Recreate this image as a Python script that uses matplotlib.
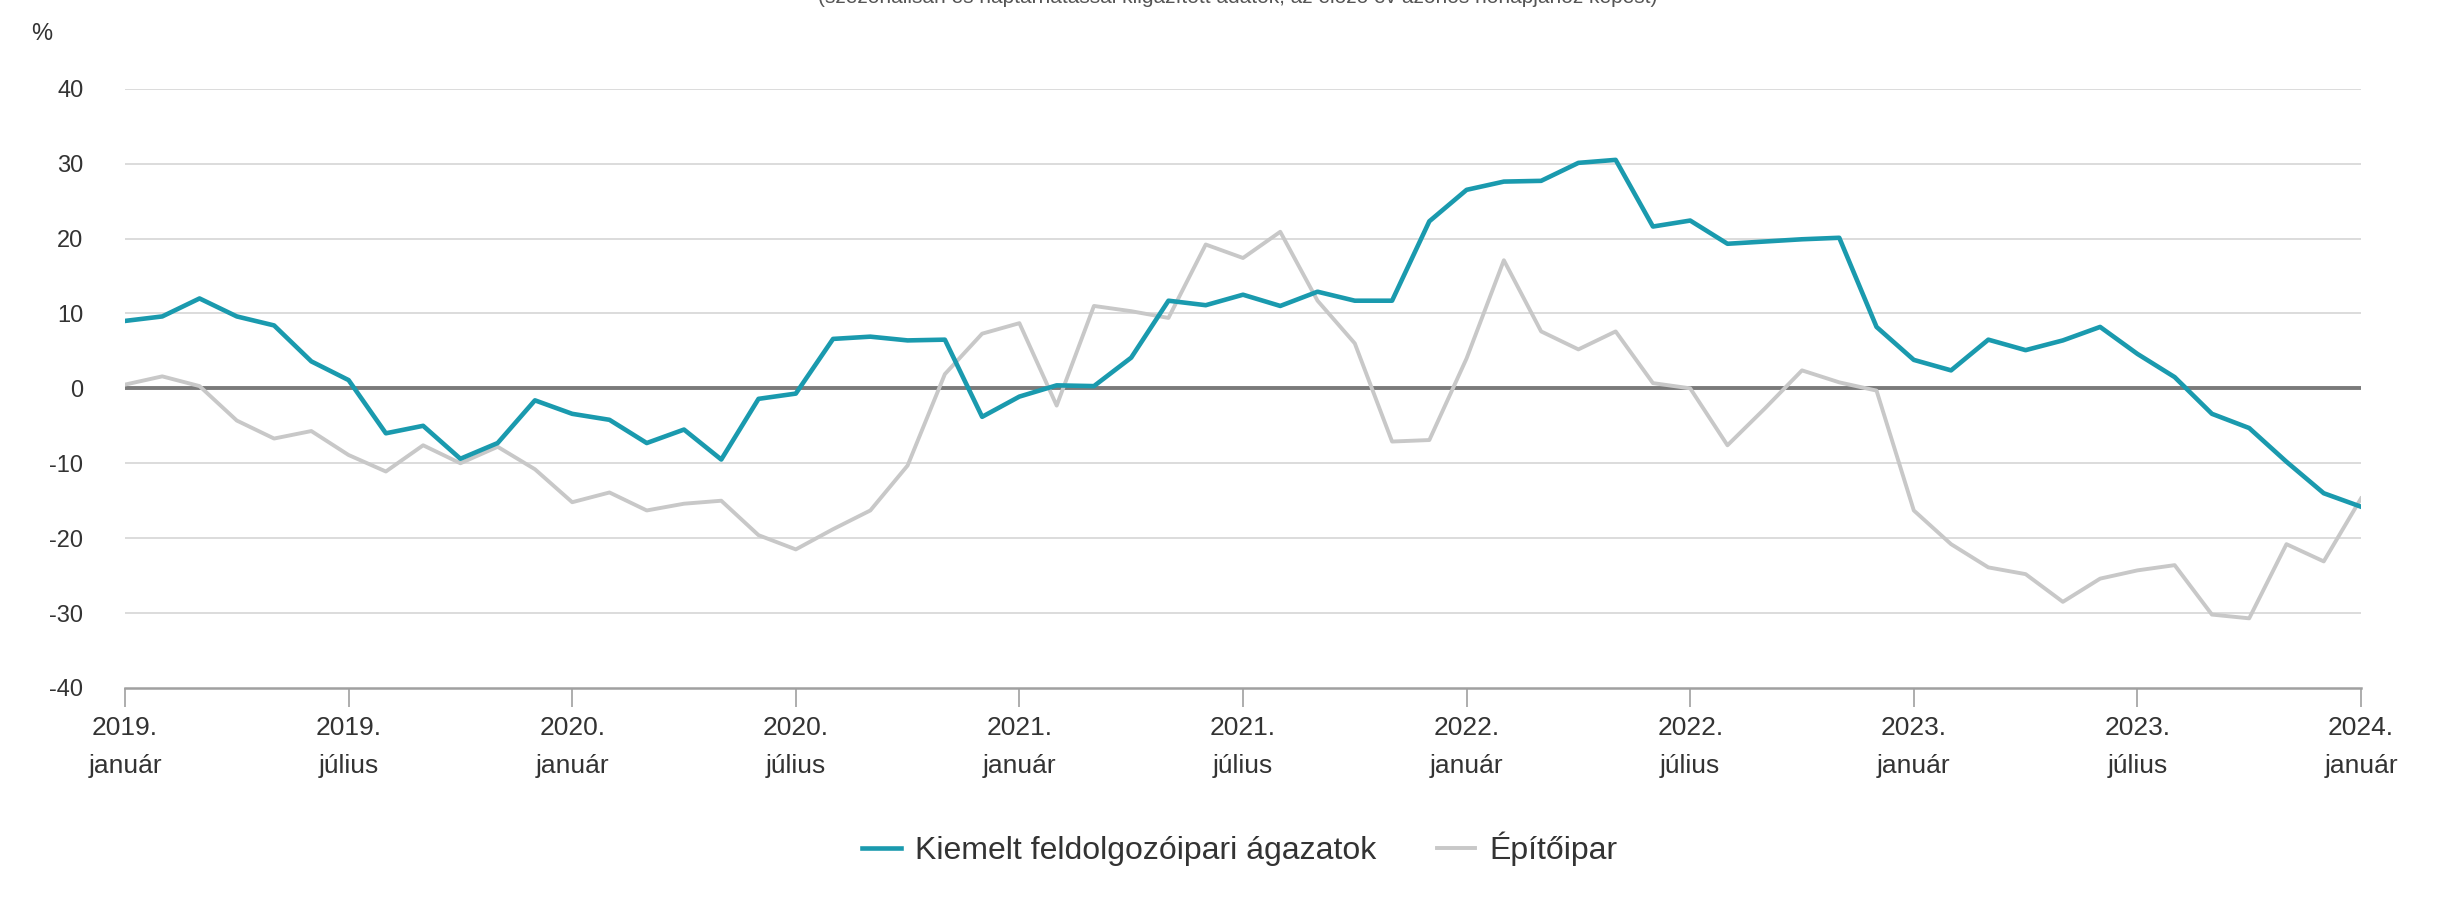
import matplotlib
matplotlib.use("Agg")
import matplotlib.pyplot as plt
import numpy as np

plt.rcParams['font.family'] = ['Liberation Sans', 'DejaVu Sans']

# Data: monthly, 2019 January .. 2024 January
kiemelt = [
    9.0, 9.6, 12.0, 9.6, 8.4, 3.6, 1.1, -6.0, -5.0, -9.4, -7.3, -1.6,
    -3.4, -4.2, -7.3, -5.5, -9.5, -1.4, -0.7, 6.6, 6.9, 6.4, 6.5, -3.8,
    -1.1, 0.4, 0.3, 4.1, 11.7, 11.1, 12.5, 11.0, 12.9, 11.7, 11.7, 22.3,
    26.5, 27.6, 27.7, 30.1, 30.5, 21.6, 22.4, 19.3, 19.6, 19.9, 20.1, 8.2,
    3.8, 2.4, 6.5, 5.1, 6.4, 8.2, 4.6, 1.5, -3.4, -5.3, -9.8, -14.0,
    -15.8,
]
epitoipar = [
    0.5, 1.6, 0.3, -4.3, -6.7, -5.7, -8.9, -11.1, -7.6, -10.0, -7.8, -10.8,
    -15.2, -13.9, -16.3, -15.4, -15.0, -19.6, -21.5, -18.8, -16.3, -10.3, 1.9, 7.3,
    8.7, -2.3, 11.0, 10.3, 9.4, 19.2, 17.4, 20.9, 11.7, 6.0, -7.1, -6.9,
    4.0, 17.1, 7.6, 5.2, 7.6, 0.7, 0.0, -7.6, -2.7, 2.4, 0.8, -0.3,
    -16.3, -20.8, -23.9, -24.8, -28.5, -25.4, -24.3, -23.6, -30.2, -30.7, -20.8, -23.1,
    -14.7,
]
series_names = ["Kiemelt feldolgozóipari ágazatok", "Építőipar"]
tick_labels = ["2019.\njanuár", "2019.\njúlius", "2020.\njanuár", "2020.\njúlius",
               "2021.\njanuár", "2021.\njúlius", "2022.\njanuár", "2022.\njúlius",
               "2023.\njanuár", "2023.\njúlius", "2024.\njanuár"]
y_ticks = [40, 30, 20, 10, 0, -10, -20, -30, -40]
subtitle = "(szezonálisan és naptárhatással kiigazított adatok, az előző év azonos hónapjához képest)"

W, H = 2442, 917
fig = plt.figure(figsize=(W / 100, H / 100), dpi=100)
ax = fig.add_axes([125 / W, 1 - 688 / H, (2361 - 125) / W, (688 - 88.7) / H])

x = np.arange(len(kiemelt))
TEAL = "#1a9aae"
GRAY = "#c8c8c8"
TXT = "#333333"

for yv in y_ticks:
    if yv not in (0, -40):
        ax.axhline(yv, color="#dcdcdc", lw=1.4, zorder=1)
ax.axhline(0, color="#7a7a7a", lw=2.8, zorder=2)

ax.plot(x, epitoipar, color=GRAY, lw=2.8, zorder=3, label=series_names[1])
ax.plot(x, kiemelt, color=TEAL, lw=3.3, zorder=4, label=series_names[0])

ax.set_xlim(0, 60)
ax.set_ylim(-40, 40)
ax.set_yticks(y_ticks)
ax.set_yticklabels([str(v) for v in y_ticks])
ax.set_xticks(np.arange(0, 61, 6))
ax.set_xticklabels(tick_labels, linespacing=1.75)

for s in ["top", "right", "left"]:
    ax.spines[s].set_visible(False)
ax.spines["bottom"].set_color("#a0a0a0")
ax.spines["bottom"].set_linewidth(1.8)

ax.tick_params(axis="y", length=0, pad=30, labelsize=17, labelcolor=TXT)
ax.tick_params(axis="x", length=14, width=1.2, color="#a0a0a0", pad=6,
               labelsize=19, labelcolor=TXT, direction="out")

fig.text(42 / W, 1 - 34 / H, "%", fontsize=17, color=TXT, ha="center", va="center")
fig.text(1238 / W, 1 - 3 / H, subtitle, fontsize=15, color="#555555",
         ha="center", va="baseline")

handles, labels = ax.get_legend_handles_labels()
order = [1, 0]
leg = fig.legend([handles[i] for i in order], [labels[i] for i in order],
                 loc="center", bbox_to_anchor=(1240 / W, 1 - 849 / H), ncol=2,
                 frameon=False, fontsize=23, handlelength=1.2, columnspacing=1.9,
                 handletextpad=0.45)
for t in leg.get_texts():
    t.set_color(TXT)

fig.savefig("out.png", dpi=100, facecolor="white")
